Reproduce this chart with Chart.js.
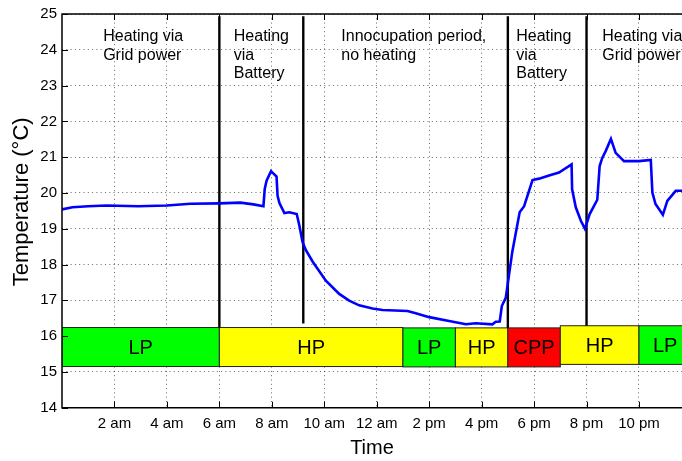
<!DOCTYPE html>
<html>
<head>
<meta charset="utf-8">
<script src="https://cdn.jsdelivr.net/npm/chart.js@4"></script>
<style>
  html, body { margin: 0; padding: 0; background: #fff; }
  #wrap { width: 682px; height: 461px; position: relative; }
</style>
</head>
<body>
<div id="wrap"><canvas id="c"></canvas></div>
<script>
// ---- Data ----
const hours = [0, 0.4, 1.0, 1.7, 2.9, 4.0, 4.9, 6.0, 6.8, 7.3, 7.68, 7.73, 7.8, 7.97, 8.18, 8.22, 8.29, 8.48, 8.67, 8.95, 9.05, 9.17, 9.3, 9.56, 10.06, 10.57, 10.95, 11.33, 11.84, 12.22, 13.17, 13.49, 14.0, 14.76, 15.4, 15.78, 16.41, 16.54, 16.69, 16.77, 16.92, 17.17, 17.45, 17.62, 17.94, 18.19, 18.57, 18.95, 19.43, 19.45, 19.59, 19.78, 19.94, 20.12, 20.41, 20.5, 20.6, 20.73, 20.93, 21.11, 21.43, 22.0, 22.45, 22.51, 22.63, 22.91, 23.08, 23.4, 23.64];
const temps = [19.54, 19.60, 19.63, 19.65, 19.63, 19.65, 19.70, 19.71, 19.73, 19.68, 19.63, 20.11, 20.34, 20.61, 20.46, 19.92, 19.72, 19.44, 19.46, 19.41, 19.09, 18.63, 18.40, 18.08, 17.55, 17.18, 16.99, 16.86, 16.77, 16.73, 16.70, 16.64, 16.53, 16.42, 16.33, 16.36, 16.33, 16.40, 16.41, 16.84, 17.07, 18.36, 19.46, 19.63, 20.36, 20.40, 20.49, 20.57, 20.80, 20.10, 19.60, 19.23, 19.00, 19.41, 19.81, 20.75, 20.98, 21.17, 21.51, 21.12, 20.89, 20.89, 20.92, 20.01, 19.69, 19.39, 19.78, 20.06, 20.06];

const xTickValues = [2, 4, 6, 8, 10, 12, 14, 16, 18, 20, 22];
const xTickLabels = ['2 am', '4 am', '6 am', '8 am', '10 am', '12 am', '2 pm', '4 pm', '6 pm', '8 pm', '10 pm'];

const tariffStart = [0, 6, 13, 15, 17, 19, 22];
const tariffEnd   = [6, 13, 15, 17, 19, 22, 24];
const tariffLabels = ['LP', 'HP', 'LP', 'HP', 'CPP', 'HP', 'LP'];
const tariffLow  = [15.15, 15.15, 15.14, 15.14, 15.14, 15.21, 15.21];
const tariffHigh = [16.24, 16.24, 16.23, 16.23, 16.23, 16.29, 16.29];

const phaseLineX = [6, 9.2, 17, 20];
const phaseLineTop = [24.94, 24.94, 24.94, 24.94];
const phaseLineBottom = [16.24, 16.35, 16.23, 16.29];

const phaseTexts = [
  ['Heating via', 'Grid power'],
  ['Heating', 'via', 'Battery'],
  ['Innocupation period,', 'no heating'],
  ['Heating', 'via', 'Battery'],
  ['Heating via', 'Grid power']
];
const phaseTextX = [1.57, 6.55, 10.65, 17.32, 20.6];

const yTitle = 'Temperature (°C)';
const xTitle = 'Time';

// ---- styles ----
const tariffColors = { LP: '#00ff00', HP: '#ffff00', CPP: '#ff0000' };
const FONT = "'Liberation Sans', Arial, Helvetica, sans-serif";

const datasets = [{
  label: 'Temperature',
  data: hours.map((h, i) => ({ x: h, y: temps[i] })),
  borderColor: '#0000ff',
  borderWidth: 2.6,
  pointRadius: 0,
  tension: 0,
  fill: false
}];
phaseLineX.forEach((x, i) => {
  datasets.push({
    label: 'phase' + i,
    data: [{ x: x, y: phaseLineTop[i] }, { x: x, y: phaseLineBottom[i] }],
    borderColor: '#000',
    borderWidth: 2.4,
    pointRadius: 0,
    fill: false
  });
});

const tariffPlugin = {
  id: 'tariff',
  beforeDatasetsDraw(chart) {
    const { ctx, chartArea, scales: { x, y } } = chart;
    ctx.save();
    ctx.beginPath();
    ctx.rect(chartArea.left, chartArea.top, chartArea.right - chartArea.left, chartArea.bottom - chartArea.top);
    ctx.clip();
    tariffStart.forEach((s, i) => {
      const x0 = x.getPixelForValue(s), x1 = x.getPixelForValue(tariffEnd[i]);
      const y0 = y.getPixelForValue(tariffHigh[i]), y1 = y.getPixelForValue(tariffLow[i]);
      ctx.fillStyle = tariffColors[tariffLabels[i]];
      ctx.fillRect(x0, y0, x1 - x0, y1 - y0);
      ctx.strokeStyle = '#222';
      ctx.lineWidth = 1;
      ctx.strokeRect(x0, y0, x1 - x0, y1 - y0);
      ctx.fillStyle = '#000';
      ctx.font = '20px ' + FONT;
      ctx.textAlign = 'center';
      ctx.textBaseline = 'middle';
      ctx.fillText(tariffLabels[i], (x0 + x1) / 2, (y0 + y1) / 2 + 1);
    });
    ctx.restore();
  },
  afterDraw(chart) {
    const { ctx, chartArea, scales: { x, y } } = chart;
    ctx.save();
    // axis box (left, top, bottom)
    ctx.strokeStyle = '#000';
    ctx.lineWidth = 1.5;
    ctx.beginPath();
    ctx.moveTo(chartArea.right + 2, chartArea.top);
    ctx.lineTo(chartArea.left, chartArea.top);
    ctx.lineTo(chartArea.left, chartArea.bottom);
    ctx.lineTo(chartArea.right + 2, chartArea.bottom);
    ctx.stroke();
    // inner tick marks
    ctx.lineWidth = 1;
    ctx.beginPath();
    xTickValues.forEach(v => {
      const px = Math.round(x.getPixelForValue(v)) + 0.5;
      ctx.moveTo(px, chartArea.bottom); ctx.lineTo(px, chartArea.bottom - 6);
      ctx.moveTo(px, chartArea.top); ctx.lineTo(px, chartArea.top + 6);
    });
    y.ticks.forEach(t => {
      const py = Math.round(y.getPixelForValue(t.value)) + 0.5;
      ctx.moveTo(chartArea.left, py); ctx.lineTo(chartArea.left + 6, py);
    });
    ctx.stroke();
    // phase annotations
    ctx.fillStyle = '#000';
    ctx.font = '16px ' + FONT;
    ctx.textAlign = 'left';
    ctx.textBaseline = 'middle';
    phaseTexts.forEach((lines, i) => {
      const px = x.getPixelForValue(phaseTextX[i]);
      lines.forEach((t, j) => {
        ctx.fillText(t, px, chartArea.top + 23 + j * 18.5);
      });
    });
    // y axis title
    ctx.save();
    ctx.translate(22, (chartArea.top + chartArea.bottom) / 2 - 9);
    ctx.rotate(-Math.PI / 2);
    ctx.font = '22px ' + FONT;
    ctx.textAlign = 'center';
    ctx.textBaseline = 'middle';
    ctx.fillText(yTitle, 0, 0);
    ctx.restore();
    ctx.restore();
  }
};

new Chart(document.getElementById('c'), {
  type: 'line',
  data: { datasets },
  options: {
    responsive: true,
    maintainAspectRatio: false,
    animation: false,
    events: [],
    layout: { padding: { left: 6, top: 9.5, right: 0, bottom: 0 } },
    plugins: { legend: { display: false }, tooltip: { enabled: false } },
    scales: {
      x: {
        type: 'linear',
        min: 0,
        max: 23.64,
        afterBuildTicks(scale) { scale.ticks = xTickValues.map(v => ({ value: v })); },
        afterFit(scale) { scale.height = 53.3; },
        ticks: {
          autoSkip: false, maxRotation: 0, padding: 7, color: '#000',
          font: { family: FONT, size: 15 },
          callback: (v) => { const i = xTickValues.indexOf(v); return i >= 0 ? xTickLabels[i] : ''; }
        },
        grid: { color: 'rgba(0,0,0,0.6)', lineWidth: 1, drawTicks: false },
        border: { display: false, dash: [1, 3.3] },
        title: { display: true, text: xTitle, color: '#000', font: { family: FONT, size: 20 }, padding: { top: 0, bottom: 1 } }
      },
      y: {
        type: 'linear',
        min: 14,
        max: 25,
        afterFit(scale) { scale.width = 56; },
        ticks: { stepSize: 1, padding: 5, color: '#000', font: { family: FONT, size: 15 } },
        grid: { color: 'rgba(0,0,0,0.6)', lineWidth: 1, drawTicks: false },
        border: { display: false, dash: [1, 3.3] },
        title: { display: false }
      }
    }
  },
  plugins: [tariffPlugin]
});
</script>
</body>
</html>
